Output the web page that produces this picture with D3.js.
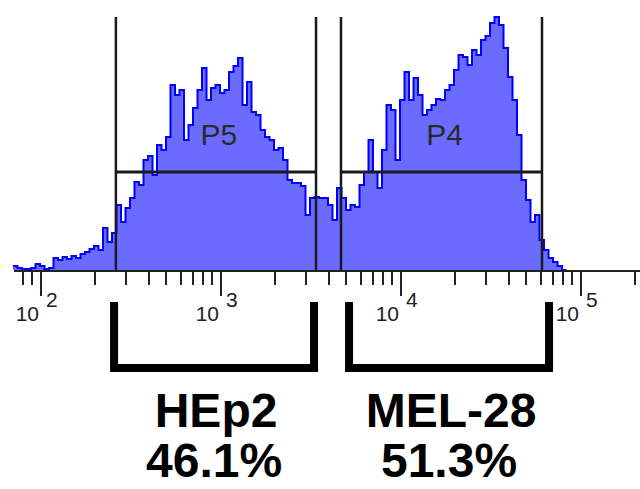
<!DOCTYPE html>
<html lang="en">
<head>
    <meta charset="UTF-8">
    <title>HEp2 / MEL-28 histogram</title>
    <script src="https://cdn.jsdelivr.net/npm/d3@7/dist/d3.min.js"></script>
    <style>
        body { margin: 0; background: #fff; }
        .axis path,
        .axis line {
            fill: none;
            stroke: #222;
            stroke-width: 2px;
            shape-rendering: crispEdges;
        }
        .tick-label {
            font-family: "Liberation Sans Narrow", "Arial Narrow", sans-serif;
            font-size: 21px;
            fill: #222;
        }
        .gate-label {
            font-family: "Liberation Sans Narrow", "Arial Narrow", sans-serif;
            font-size: 30px;
            fill: #2a2a2a;
        }
        .big-label {
            font-family: "Liberation Sans", Arial, sans-serif;
            font-weight: bold;
            font-size: 48px;
            fill: #000;
        }
    </style>
</head>
<body>
<script type="application/javascript">
    // histogram bins: log10 of first bin edge and bin width (in decades)
    const binStartLog = 1.85;
    const binStepLog = 0.025;
    // events per bin
    const counts = [
        4, 2, 1, 1, 2, 6, 4, 1, 2, 12,
        10, 13, 11, 14, 12, 16, 18, 21, 24, 20,
        42, 28, 37, 65, 48, 62, 72, 88, 85, 110,
        114, 95, 125, 120, 133, 185, 175, 180, 130, 145,
        162, 180, 202, 170, 182, 185, 177, 180, 198, 204,
        212, 165, 188, 158, 155, 140, 133, 130, 120, 122,
        110, 90, 87, 87, 84, 55, 72, 73, 72, 72,
        65, 50, 82, 72, 60, 65, 63, 85, 98, 130,
        98, 82, 120, 165, 160, 110, 170, 198, 170, 192,
        175, 155, 160, 165, 171, 170, 180, 185, 200, 215,
        213, 205, 220, 215, 230, 234, 247, 253, 245, 222,
        193, 170, 135, 90, 70, 48, 55, 30, 20, 12,
        8, 4, 0
    ];

    // gates (channel values) and their level
    const gateNames = ['P5', 'P4'];
    const gateLow = [264, 4700];
    const gateHigh = [3415, 61500];
    const gateLevel = 98;

    // bracket ranges below the axis and their labels
    const bracketLow = [258, 5210];
    const bracketHigh = [3330, 67300];
    const cellLines = ['HEp2', 'MEL-28'];
    const percents = ['46.1%', '51.3%'];

    const majorTicks = [1e2, 1e3, 1e4, 1e5];
    const exponents = ['2', '3', '4', '5'];

    const w = 640, h = 489;
    const axisY = 270, plotTop = 17;

    let svg = d3.select('body')
        .append('svg')
        .attr('width', w)
        .attr('height', h);

    // log scale of the fluorescence channel
    let xScale = d3.scaleLog()
        .domain([1e2, 1e5])
        .range([40, 580]);

    // scale for the axis line itself (runs to the edge)
    let axisScale = xScale.copy()
        .domain([xScale.invert(13), xScale.invert(640)])
        .range([13, 640]);

    let yScale = d3.scaleLinear()
        .domain([0, 253])
        .range([axisY, plotTop]);

    // bin edges as points for a step curve
    let pts = counts.map((c, i) => [Math.pow(10, binStartLog + binStepLog * i), c]);
    pts.push([Math.pow(10, binStartLog + binStepLog * counts.length), 0]);

    let area = d3.area()
        .x(d => xScale(d[0]))
        .y0(axisY)
        .y1(d => yScale(d[1]))
        .curve(d3.curveStepAfter);

    let line = d3.line()
        .x(d => xScale(d[0]))
        .y(d => yScale(d[1]))
        .curve(d3.curveStepAfter);

    svg.append('path')
        .datum(pts)
        .attr('d', area)
        .attr('fill', '#6b6bff');

    svg.append('path')
        .datum(pts)
        .attr('d', line)
        .attr('fill', 'none')
        .attr('stroke', '#0000ff')
        .attr('stroke-width', 2);

    // gates
    let gates = svg.selectAll('g.gate')
        .data(gateNames)
        .enter()
        .append('g')
        .attr('class', 'gate')
        .attr('stroke', '#1a1a1a')
        .attr('fill', 'none');

    gates.append('line')
        .attr('x1', (d, i) => xScale(gateLow[i]))
        .attr('x2', (d, i) => xScale(gateLow[i]))
        .attr('y1', plotTop)
        .attr('y2', axisY)
        .attr('stroke-width', 2.5);
    gates.append('line')
        .attr('x1', (d, i) => xScale(gateHigh[i]))
        .attr('x2', (d, i) => xScale(gateHigh[i]))
        .attr('y1', plotTop)
        .attr('y2', axisY)
        .attr('stroke-width', 2.5);
    gates.append('line')
        .attr('x1', (d, i) => xScale(gateLow[i]))
        .attr('x2', (d, i) => xScale(gateHigh[i]))
        .attr('y1', yScale(gateLevel))
        .attr('y2', yScale(gateLevel))
        .attr('stroke-width', 3);

    svg.selectAll('text.gate-label')
        .data(gateNames)
        .enter()
        .append('text')
        .attr('class', 'gate-label')
        .attr('x', (d, i) => (xScale(gateLow[i]) + xScale(gateHigh[i])) / 2 + 3)
        .attr('y', 145)
        .attr('text-anchor', 'middle')
        .text(d => d);

    // minor ticks + axis line
    let minor = axisScale.ticks().filter(v => majorTicks.indexOf(v) < 0);
    minor.push(2e5);
    svg.append('g')
        .attr('class', 'axis')
        .attr('transform', 'translate(0,' + axisY + ')')
        .call(d3.axisBottom(axisScale)
            .tickValues(minor)
            .tickSize(15)
            .tickSizeOuter(0)
            .tickFormat(''));

    // major ticks
    let major = svg.append('g')
        .attr('class', 'axis')
        .attr('transform', 'translate(0,' + axisY + ')')
        .call(d3.axisBottom(axisScale)
            .tickValues(majorTicks)
            .tickSize(26)
            .tickSizeOuter(0)
            .tickFormat(''));
    major.select('.domain').remove();

    svg.selectAll('text.tick-base')
        .data(majorTicks)
        .enter()
        .append('text')
        .attr('class', 'tick-label tick-base')
        .attr('x', d => xScale(d) - 1)
        .attr('y', 321)
        .attr('text-anchor', 'end')
        .text('10');
    svg.selectAll('text.tick-exp')
        .data(majorTicks)
        .enter()
        .append('text')
        .attr('class', 'tick-label tick-exp')
        .attr('x', d => xScale(d) + 6)
        .attr('y', 307)
        .text((d, i) => exponents[i]);

    // brackets
    svg.selectAll('path.bracket')
        .data(cellLines)
        .enter()
        .append('path')
        .attr('class', 'bracket')
        .attr('fill', 'none')
        .attr('stroke', '#000')
        .attr('stroke-width', 8)
        .attr('d', (d, i) => {
            let x0 = xScale(bracketLow[i]), x1 = xScale(bracketHigh[i]);
            return 'M' + x0 + ',302V368H' + x1 + 'V302';
        });

    svg.selectAll('text.cell')
        .data(cellLines)
        .enter()
        .append('text')
        .attr('class', 'big-label cell')
        .attr('x', (d, i) => (xScale(bracketLow[i]) + xScale(bracketHigh[i])) / 2 + 2)
        .attr('y', 427)
        .attr('text-anchor', 'middle')
        .text(d => d);

    svg.selectAll('text.pct')
        .data(percents)
        .enter()
        .append('text')
        .attr('class', 'big-label pct')
        .attr('x', (d, i) => (xScale(bracketLow[i]) + xScale(bracketHigh[i])) / 2)
        .attr('y', 477)
        .attr('text-anchor', 'middle')
        .text(d => d);
</script>
</body>
</html>
